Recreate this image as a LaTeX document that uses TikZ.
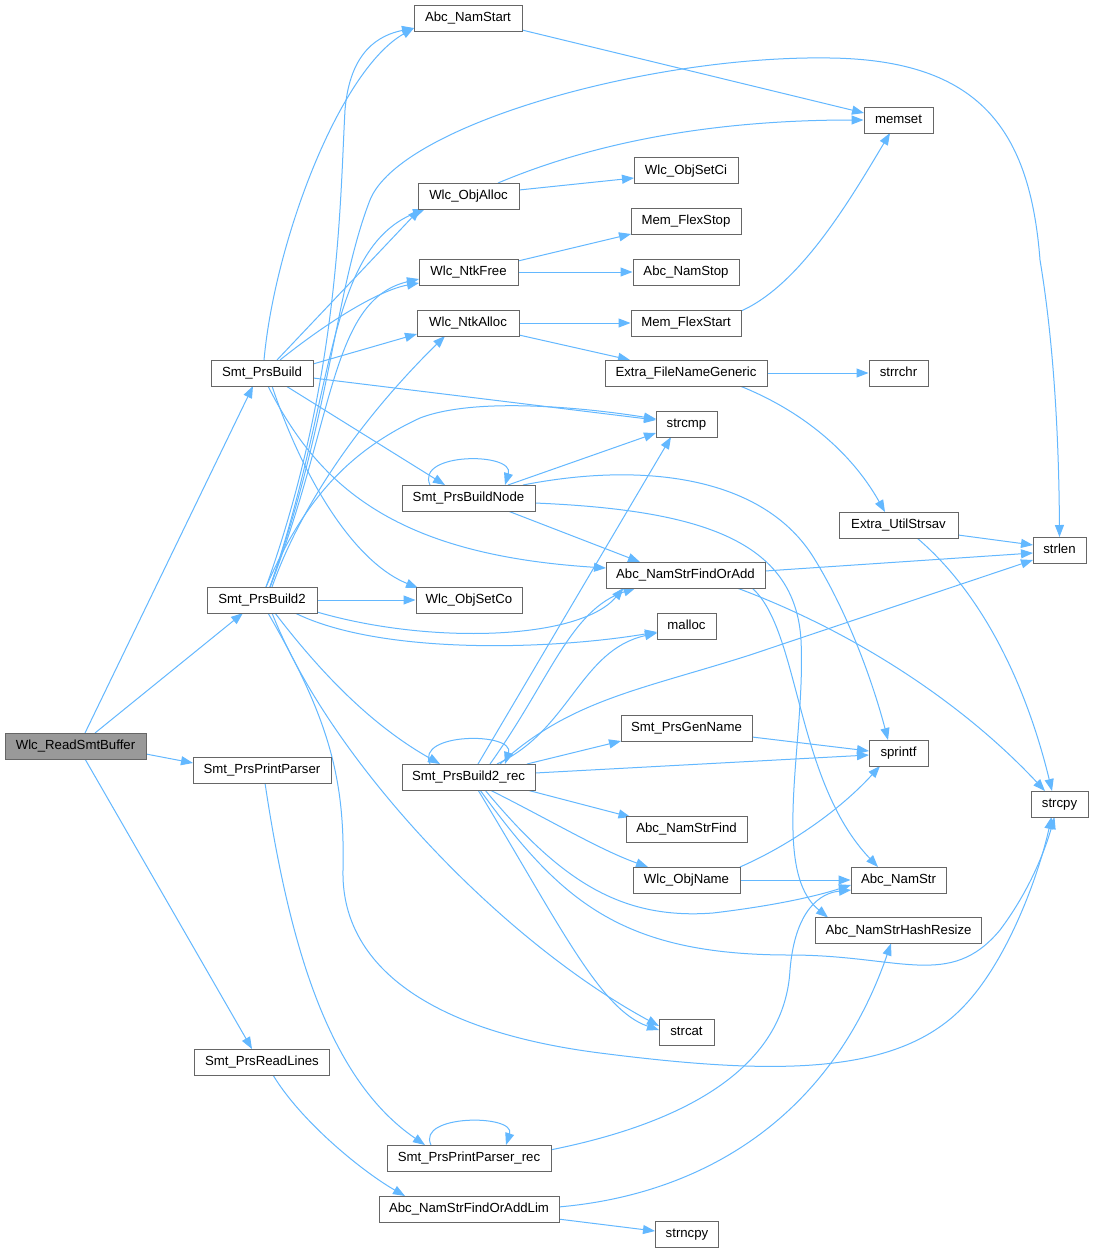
\documentclass[tikz,border=0pt]{standalone}
\usepackage{fontspec}
\setmainfont{Liberation Sans}
\usetikzlibrary{arrows.meta,calc}
\definecolor{edgeblue}{HTML}{63B8FF}
\definecolor{boxgray}{HTML}{666666}
\definecolor{rootfill}{HTML}{999999}
\pgfdeclarelayer{bg}
\pgfsetlayers{bg,main}
\begin{document}
\begin{tikzpicture}[x=1pt,y=-1pt,
  box/.style={draw=boxgray,fill=white,line width=1pt,minimum height=26pt,inner sep=0pt,font=\fontsize{13.2}{15}\selectfont,text=black,text height=9.6pt,text depth=2.6pt},
  conn/.style={draw=edgeblue,line width=1pt,-{Triangle[length=12pt,width=9pt]}}]
\useasboundingbox (0,0) rectangle (1094,1253);
% nodes
\node[box,fill=rootfill,minimum width=141pt] (rsb) at (75.5,746) {Wlc\_ReadSmtBuffer};
\node[box,minimum width=108pt] (namstart) at (468,18) {Abc\_NamStart};
\node[box,minimum width=69pt] (memset) at (898.5,120) {memset};
\node[box,minimum width=104pt] (objsetci) at (686,170.5) {Wlc\_ObjSetCi};
\node[box,minimum width=101pt] (objalloc) at (468.5,196) {Wlc\_ObjAlloc};
\node[box,minimum width=110pt] (flexstop) at (686,221) {Mem\_FlexStop};
\node[box,minimum width=99pt] (ntkfree) at (468.5,272) {Wlc\_NtkFree};
\node[box,minimum width=106pt] (namstop) at (686,272) {Abc\_NamStop};
\node[box,minimum width=102pt] (ntkalloc) at (468,323) {Wlc\_NtkAlloc};
\node[box,minimum width=110pt] (flexstart) at (686,323) {Mem\_FlexStart};
\node[box,minimum width=102pt] (build) at (262,373) {Smt\_PrsBuild};
\node[box,minimum width=162pt] (fng) at (686,373) {Extra\_FileNameGeneric};
\node[box,minimum width=59pt] (strrchr) at (898.5,373) {strrchr};
\node[box,minimum width=61pt] (strcmp) at (686.5,424) {strcmp};
\node[box,minimum width=133pt] (buildnode) at (468.5,498) {Smt\_PrsBuildNode};
\node[box,minimum width=119pt] (strsav) at (898.5,525) {Extra\_UtilStrsav};
\node[box,minimum width=53pt] (strlen) at (1059.5,550) {strlen};
\node[box,minimum width=159pt] (findoradd) at (685.5,575) {Abc\_NamStrFindOrAdd};
\node[box,minimum width=110pt] (build2) at (262,600) {Smt\_PrsBuild2};
\node[box,minimum width=106pt] (objsetco) at (469,600) {Wlc\_ObjSetCo};
\node[box,minimum width=59pt] (malloc) at (686.5,626) {malloc};
\node[box,minimum width=131pt] (genname) at (686.5,728) {Smt\_PrsGenName};
\node[box,minimum width=59pt] (sprintf) at (898.5,753) {sprintf};
\node[box,minimum width=138pt] (pp) at (262,770) {Smt\_PrsPrintParser};
\node[box,minimum width=133pt] (rec) at (468.5,777) {Smt\_PrsBuild2\_rec};
\node[box,minimum width=57pt] (strcpy) at (1059.5,804) {strcpy};
\node[box,minimum width=121pt] (namstrfind) at (686.5,829) {Abc\_NamStrFind};
\node[box,minimum width=107pt] (objname) at (686.5,880) {Wlc\_ObjName};
\node[box,minimum width=95pt] (namstr) at (898.5,880) {Abc\_NamStr};
\node[box,minimum width=166pt] (hashresize) at (898.5,930.5) {Abc\_NamStrHashResize};
\node[box,minimum width=55pt] (strcat) at (686.5,1032) {strcat};
\node[box,minimum width=135pt] (readlines) at (262,1062) {Smt\_PrsReadLines};
\node[box,minimum width=164pt] (pprec) at (469,1158) {Smt\_PrsPrintParser\_rec};
\node[box,minimum width=180pt] (lim) at (469,1209) {Abc\_NamStrFindOrAddLim};
\node[box,minimum width=63pt] (strncpy) at (687,1234) {strncpy};
\begin{pgfonlayer}{bg}
\fill[white] (0,0) rectangle (1094,1253);
% root
\draw[conn] ($(rsb)+(9.5,-13)$) -- ($(build)+(-9,13)$);
\draw[conn] ($(rsb)+(19.5,-13)$) -- ($(build2)+(-19,13)$);
\draw[conn] ($(rsb)+(70.5,8)$) -- ($(pp)+(-69,-7)$);
\draw[conn] ($(rsb)+(9.5,13)$) -- ($(readlines)+(-10,-13)$);
% Smt_PrsBuild
\draw[conn] ($(build)+(2,-13)$) .. controls (275,240) and (340,70) .. ($(namstart)+(-54,10)$);
\draw[conn] ($(build)+(15,-13)$) -- ($(objalloc)+(-48.5,13)$);
\draw[conn] ($(build)+(18,-13)$) .. controls (330,320) and (380,290) .. ($(ntkfree)+(-49.5,11)$);
\draw[conn] ($(build)+(51,-9)$) -- ($(ntkalloc)+(-51,11)$);
\draw[conn] ($(build)+(51,5)$) -- ($(strcmp)+(-30.5,-4)$);
\draw[conn] ($(build)+(24,13)$) -- ($(buildnode)+(-23.5,-13)$);
\draw[conn] ($(build)+(6,13)$) .. controls (320,490) and (400,555) .. ($(findoradd)+(-79.5,-7)$);
\draw[conn] ($(build)+(10,13)$) .. controls (300,470) and (350,560) .. ($(objsetco)+(-51,-12)$);
% Smt_PrsBuild2
\draw[conn] ($(build2)+(4,-13)$) .. controls (340,380) and (340,200) .. (345,110) .. controls (350,50) and (380,35) .. ($(namstart)+(-54,10)$);
\draw[conn] ($(build2)+(8,-13)$) .. controls (330,420) and (335,290) .. (370,200) .. controls (400,125) and (650,55) .. (830,58) .. controls (980,60) and (1030,130) .. (1040,260) .. controls (1055,350) and (1059,450) .. ($(strlen)+(0,-13)$);
\draw[conn] ($(build2)+(8,-13)$) .. controls (335,400) and (325,250) .. ($(objalloc)+(-43.5,13)$);
\draw[conn] ($(build2)+(8,-13)$) .. controls (335,420) and (330,300) .. ($(ntkfree)+(-49.5,7)$);
\draw[conn] ($(build2)+(10,-13)$) .. controls (310,480) and (390,390) .. ($(ntkalloc)+(-23,13)$);
\draw[conn] ($(build2)+(4,-13)$) .. controls (300,510) and (340,455) .. (420,418) .. controls (480,395) and (600,410) .. ($(strcmp)+(-30.5,-5)$);
\draw[conn] (build2.east) -- (objsetco.west);
\draw[conn] ($(build2)+(55,12)$) .. controls (430,645) and (580,640) .. ($(findoradd)+(-62,13)$);
\draw[conn] ($(build2)+(33,13)$) .. controls (380,655) and (550,650) .. ($(malloc)+(-29.5,6)$);
\draw[conn] ($(build2)+(13,13)$) .. controls (330,685) and (380,730) .. ($(rec)+(-28.5,-13)$);
\draw[conn] ($(build2)+(10,13)$) .. controls (330,760) and (500,940) .. ($(strcat)+(-27.5,-6)$);
\draw[conn] ($(build2)+(6,13)$) .. controls (330,720) and (345,780) .. (343,870) .. controls (341,960) and (420,1030) .. (600,1053) .. controls (780,1076) and (900,1075) .. (965,1005) .. controls (1010,957) and (1040,870) .. ($(strcpy)+(-8,13)$);
% Smt_PrsBuildNode
\draw[conn] ($(buildnode)+(-38.5,-13)$) .. controls (415,452) and (515,452) .. ($(buildnode)+(36.5,-13)$);
\draw[conn] ($(buildnode)+(39.5,-13)$) -- ($(strcmp)+(-30.5,9)$);
\draw[conn] ($(buildnode)+(54.5,-13)$) .. controls (640,462) and (760,475) .. (812,555) .. controls (850,615) and (875,690) .. ($(sprintf)+(-10.5,-13)$);
\draw[conn] ($(buildnode)+(39.5,13)$) -- ($(findoradd)+(-45.5,-13)$);
\draw[conn] ($(buildnode)+(66.5,5)$) .. controls (700,510) and (795,540) .. (801,640) .. controls (806,740) and (770,870) .. ($(hashresize)+(-70.5,-13)$);
% Abc_NamStrFindOrAdd
\draw[conn] ($(findoradd)+(79.5,-4)$) -- ($(strlen)+(-26.5,3)$);
\draw[conn] ($(findoradd)+(51.5,13)$) .. controls (850,630) and (960,700) .. ($(strcpy)+(-14.5,-13)$);
\draw[conn] ($(findoradd)+(66.5,13)$) .. controls (800,630) and (795,780) .. ($(namstr)+(-20.5,-13)$);
% Smt_PrsBuild2_rec
\draw[conn] ($(rec)+(-38.5,-13)$) .. controls (415,732) and (515,732) .. ($(rec)+(36.5,-13)$);
\draw[conn] ($(rec)+(9.5,-13)$) -- ($(strcmp)+(-15.5,13)$);
\draw[conn] ($(rec)+(21.5,-13)$) .. controls (550,680) and (570,610) .. ($(findoradd)+(-50,13)$);
\draw[conn] ($(rec)+(28.5,-13)$) .. controls (570,730) and (580,650) .. ($(malloc)+(-29.5,7)$);
\draw[conn] ($(rec)+(31.5,-13)$) .. controls (570,700) and (640,690) .. (750,655) -- ($(strlen)+(-26.5,10)$);
\draw[conn] ($(rec)+(58.5,-13)$) -- ($(genname)+(-65.5,13)$);
\draw[conn] ($(rec)+(66.5,-4)$) -- ($(sprintf)+(-29.5,2)$);
\draw[conn] ($(rec)+(58.5,13)$) -- ($(namstrfind)+(-56,-12)$);
\draw[conn] ($(rec)+(21.5,13)$) .. controls (550,820) and (600,850) .. ($(objname)+(-38.5,-13)$);
\draw[conn] ($(rec)+(16.5,13)$) .. controls (560,880) and (620,920) .. (713,913) .. controls (780,905) and (820,895) .. ($(namstr)+(-47.5,5)$);
\draw[conn] ($(rec)+(11.5,13)$) .. controls (560,900) and (620,955) .. (790,955) .. controls (900,955) and (950,990) .. (1000,930) .. controls (1030,890) and (1045,850) .. ($(strcpy)+(-5,13)$);
\draw[conn] ($(rec)+(9.5,13)$) .. controls (560,925) and (600,1010) .. ($(strcat)+(-27.5,-2)$);
% others
\draw[conn] ($(namstart)+(54,12)$) -- ($(memset)+(-34.5,-7)$);
\draw[conn] ($(objalloc)+(29.5,-13)$) .. controls (600,140) and (720,120) .. (memset.west);
\draw[conn] ($(objalloc)+(50.5,-6)$) -- ($(objsetci)+(-52,7.5)$);
\draw[conn] ($(ntkfree)+(49.5,-11)$) -- ($(flexstop)+(-55,13)$);
\draw[conn] (ntkfree.east) -- (namstop.west);
\draw[conn] (ntkalloc.east) -- (flexstart.west);
\draw[conn] ($(ntkalloc)+(51,12)$) -- ($(fng)+(-56,-13)$);
\draw[conn] ($(flexstart)+(55,-12)$) .. controls (800,285) and (850,200) .. ($(memset)+(-8.5,13)$);
\draw[conn] (fng.east) -- (strrchr.west);
\draw[conn] ($(fng)+(54,13)$) .. controls (800,410) and (850,450) .. ($(strsav)+(-13.5,-13)$);
\draw[conn] ($(strsav)+(59.5,10)$) -- ($(strlen)+(-26.5,-5)$);
\draw[conn] ($(strsav)+(18.5,13)$) .. controls (990,600) and (1030,700) .. ($(strcpy)+(-7.5,-13)$);
\draw[conn] ($(genname)+(65.5,9)$) -- ($(sprintf)+(-29.5,-2)$);
\draw[conn] ($(objname)+(53.5,-13)$) .. controls (790,845) and (840,810) .. ($(sprintf)+(-18.5,13)$);
\draw[conn] (objname.east) -- (namstr.west);
\draw[conn] ($(pp)+(3,13)$) .. controls (290,950) and (330,1080) .. ($(pprec)+(-44,-13)$);
\draw[conn] ($(pprec)+(-38,-13)$) .. controls (416,1114) and (516,1114) .. ($(pprec)+(37,-13)$);
\draw[conn] ($(pprec)+(81,-8)$) .. controls (700,1120) and (785,1060) .. (790,970) .. controls (795,910) and (820,893) .. ($(namstr)+(-47.5,10)$);
\draw[conn] ($(readlines)+(11,13)$) .. controls (300,1120) and (360,1170) .. ($(lim)+(-64,-13)$);
\draw[conn] ($(lim)+(89,-2)$) .. controls (700,1195) and (830,1120) .. ($(hashresize)+(-7.5,13)$);
\draw[conn] ($(lim)+(89,10)$) -- ($(strncpy)+(-32,-3)$);
\end{pgfonlayer}
\end{tikzpicture}
\end{document}
